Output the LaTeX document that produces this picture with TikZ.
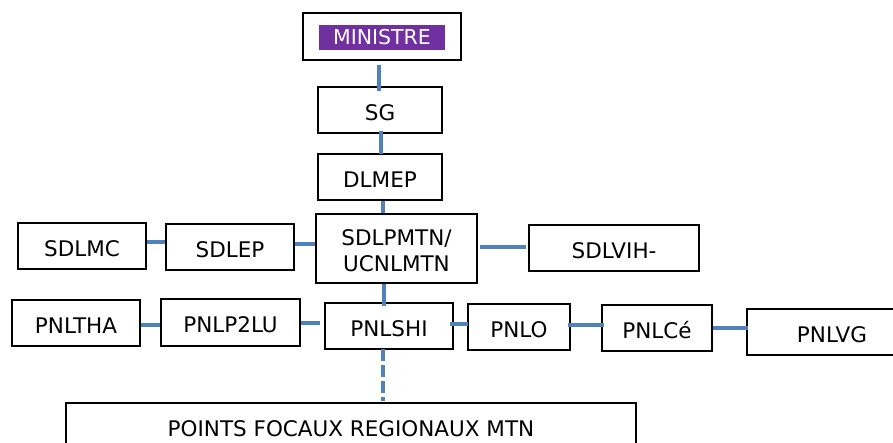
\documentclass[tikz,border=0pt]{standalone}
\usepackage{fontspec}
\setmainfont{DejaVu Sans}
\definecolor{linkblue}{HTML}{4F81BD}
\definecolor{ministrepurple}{HTML}{7030A0}
\begin{document}
\begin{tikzpicture}[x=1pt,y=-1pt,
  box/.style={draw=black,line width=1.8pt,fill=white,inner sep=0pt,
    font=\fontsize{21.5}{26}\selectfont,text=black,align=center},
  oneline/.style={box,text height=20.7pt,text depth=0pt},
  conn/.style={draw=linkblue,line width=4pt},
  dashconn/.style={conn,dash pattern=on 12pt off 4pt}]
\useasboundingbox (0,0) rectangle (893,443);
\clip (0,0) rectangle (893,443);

% boxes
\node[box,minimum width=158pt,minimum height=47pt] (min) at (382,36.5) {};
\node[fill=ministrepurple,text=white,inner sep=0pt,minimum width=126pt,minimum height=25pt,
  font=\fontsize{20.5}{24}\selectfont] (minlabel) at (382,37.5) {MINISTRE};
\node[oneline,minimum width=124pt,minimum height=46pt] (sg) at (380,110) {SG};
\node[oneline,minimum width=124pt,minimum height=46pt] (dlmep) at (380,177) {DLMEP};
\node[box,minimum width=161pt,minimum height=69pt] (sdlpmtn) at (396.5,248.5) {\rule{0pt}{21pt}SDLPMTN/\\UCNLMTN};
\node[oneline,minimum width=128pt,minimum height=46pt] (sdlmc) at (82,246) {SDLMC};
\node[oneline,minimum width=128pt,minimum height=46pt] (sdlep) at (230,247) {SDLEP};
\node[oneline,minimum width=170pt,minimum height=46pt] (sdlvih) at (614,248) {SDLVIH-};
\node[oneline,minimum width=128pt,minimum height=46pt] (pnltha) at (76,323) {PNLTHA};
\node[oneline,minimum width=139pt,minimum height=47pt] (pnlp2lu) at (230.5,322.5) {PNLP2LU};
\node[oneline,minimum width=128pt,minimum height=46pt] (pnlshi) at (389,326) {PNLSHI};
\node[oneline,minimum width=102pt,minimum height=46pt] (pnlo) at (519,327) {PNLO};
\node[oneline,minimum width=110pt,minimum height=46pt] (pnlce) at (657,328) {PNLCé};
\node[oneline,minimum width=170pt,minimum height=46pt] (pnlvg) at (832,332) {PNLVG};
\node[oneline,minimum width=570pt,minimum height=46pt] (points) at (351,426) {POINTS FOCAUX REGIONAUX MTN};

% vertical links
\draw[conn] ([xshift=-3pt,yshift=-4pt]min.south) -- ([xshift=-1pt,yshift=-5pt]sg.north);
\draw[conn] ([xshift=1pt,yshift=3pt]sg.south) -- ([xshift=1pt,yshift=-1pt]dlmep.north);
\draw[conn] ([xshift=3pt]dlmep.south) -- ([xshift=-13.5pt]sdlpmtn.north);
\draw[conn] ([xshift=-12.5pt]sdlpmtn.south) -- ([xshift=-5pt,yshift=-4pt]pnlshi.north);
\draw[dashconn] ([xshift=-6pt,yshift=1pt]pnlshi.south) -- ([xshift=32pt,yshift=1pt]points.north);

% horizontal links, upper row
\draw[conn] ([yshift=4pt]sdlmc.east) -- ([yshift=5pt]sdlep.west);
\draw[conn] ([yshift=3pt]sdlep.east) -- ([yshift=4.5pt]sdlpmtn.west);
\draw[conn] ([xshift=2pt,yshift=1.5pt]sdlpmtn.east) -- ([xshift=-2pt,yshift=1pt]sdlvih.west);

% horizontal links, lower row
\draw[conn] ([yshift=-2pt]pnltha.east) -- ([yshift=-2.5pt]pnlp2lu.west);
\draw[conn] ([yshift=-0.5pt]pnlp2lu.east) -- ([xshift=-4pt,yshift=3pt]pnlshi.west);
\draw[conn] ([xshift=-4pt,yshift=2pt]pnlshi.east) -- ([xshift=1pt,yshift=3pt]pnlo.west);
\draw[conn] ([xshift=-3pt,yshift=2pt]pnlo.east) -- ([xshift=3pt,yshift=3pt]pnlce.west);
\draw[conn] (pnlce.east) -- ([xshift=2pt,yshift=4pt]pnlvg.west);
\end{tikzpicture}
\end{document}
